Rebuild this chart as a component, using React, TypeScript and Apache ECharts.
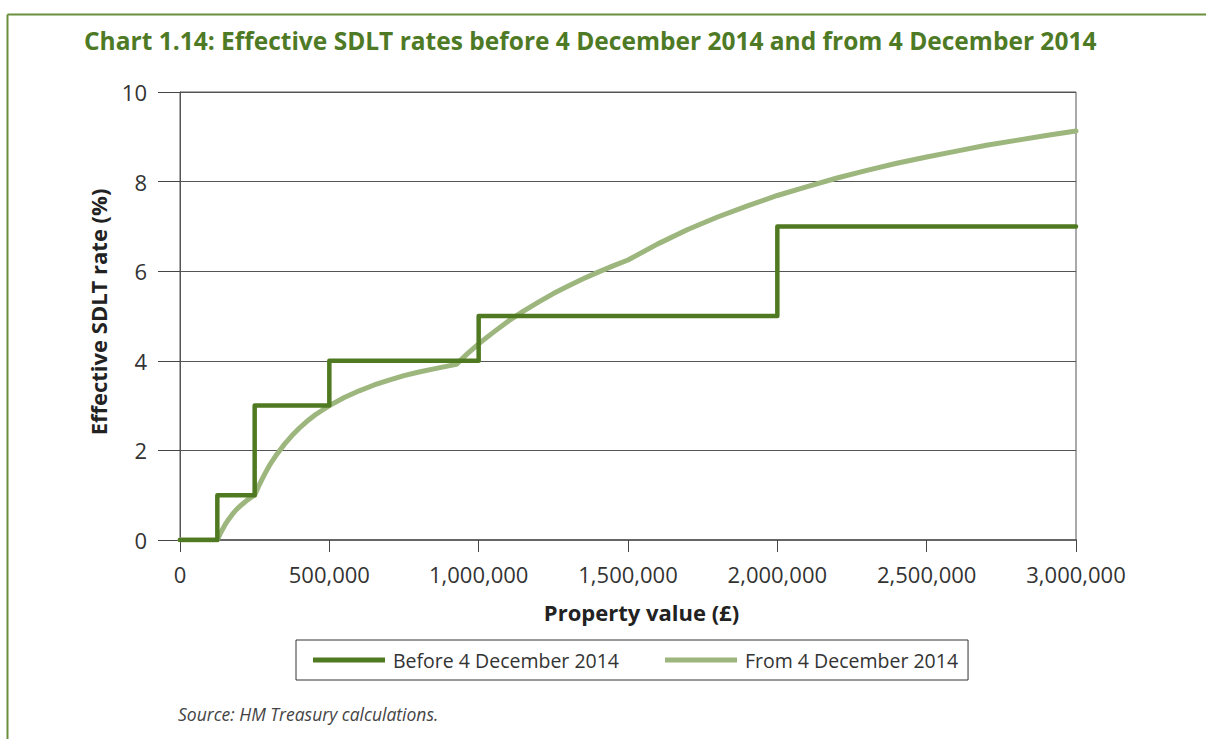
import React, { useEffect, useRef } from "react";
import * as echarts from "echarts";

const TITLE = "Chart 1.14: Effective SDLT rates before 4 December 2014 and from 4 December 2014";
const X_TITLE = "Property value (£)";
const Y_TITLE = "Effective SDLT rate (%)";
const SOURCE = "Source: HM Treasury calculations.";
const SERIES_NAMES = ["Before 4 December 2014", "From 4 December 2014"];

// Before 4 December 2014 (slab system): [property value, effective rate %]
const beforeData: [number, number][] = [
  [0, 0],
  [125000, 0],
  [125000, 1],
  [250000, 1],
  [250000, 3],
  [500000, 3],
  [500000, 4],
  [1000000, 4],
  [1000000, 5],
  [2000000, 5],
  [2000000, 7],
  [3000000, 7],
];

// From 4 December 2014 (slice system): [property value, effective rate %]
const fromData: [number, number][] = [
  [0, 0],
  [125000, 0],
  [137500, 0.18],
  [150000, 0.33],
  [162500, 0.46],
  [175000, 0.57],
  [187500, 0.67],
  [200000, 0.75],
  [212500, 0.82],
  [225000, 0.89],
  [237500, 0.95],
  [250000, 1.0],
  [262500, 1.19],
  [275000, 1.36],
  [287500, 1.52],
  [300000, 1.67],
  [325000, 1.92],
  [350000, 2.14],
  [375000, 2.33],
  [400000, 2.5],
  [425000, 2.65],
  [450000, 2.78],
  [475000, 2.89],
  [500000, 3.0],
  [550000, 3.18],
  [600000, 3.33],
  [650000, 3.46],
  [700000, 3.57],
  [750000, 3.67],
  [800000, 3.75],
  [850000, 3.82],
  [925000, 3.92],
  [962500, 4.16],
  [1000000, 4.38],
  [1050000, 4.64],
  [1100000, 4.89],
  [1150000, 5.11],
  [1200000, 5.31],
  [1250000, 5.5],
  [1300000, 5.67],
  [1350000, 5.83],
  [1400000, 5.98],
  [1450000, 6.12],
  [1500000, 6.25],
  [1600000, 6.61],
  [1700000, 6.93],
  [1800000, 7.21],
  [1900000, 7.46],
  [2000000, 7.69],
  [2100000, 7.89],
  [2200000, 8.08],
  [2300000, 8.25],
  [2400000, 8.41],
  [2500000, 8.55],
  [2600000, 8.68],
  [2700000, 8.81],
  [2800000, 8.92],
  [2900000, 9.03],
  [3000000, 9.13],
];

const X_MIN = 0;
const X_MAX = 3000000;
const X_STEP = 500000;
const Y_MIN = 0;
const Y_MAX = 10;
const Y_STEP = 2;

const DARK = "#507a22";
const LIGHT = "#9cb67d";
const FONT = "'Open Sans', 'Noto Sans', sans-serif";

export default function App() {
  const ref = useRef<HTMLDivElement>(null);

  useEffect(() => {
    document.body.style.margin = "0";
    if (!ref.current) return;
    const chart = echarts.init(ref.current, undefined, { renderer: "svg" });
    const option: any = {
      animation: false,
      backgroundColor: "#ffffff",
      textStyle: { fontFamily: FONT },
      grid: {
        left: 180,
        right: 130,
        top: 92,
        bottom: 199,
        show: true,
        borderColor: "#555555",
        borderWidth: 1,
      },
      xAxis: {
        type: "value",
        min: X_MIN,
        max: X_MAX,
        interval: X_STEP,
        name: X_TITLE,
        nameLocation: "middle",
        nameGap: 61,
        nameTextStyle: {
          fontFamily: FONT,
          fontSize: 22,
          fontWeight: "bold",
          color: "#222222",
          padding: [0, 0, 0, 27],
        },
        axisLine: { show: true, lineStyle: { color: "#666666", width: 2 } },
        axisTick: { show: true, length: 12, lineStyle: { color: "#444444", width: 1 } },
        axisLabel: {
          fontFamily: FONT,
          fontSize: 22,
          color: "#333333",
          margin: 23,
          formatter: (v: number) => v.toLocaleString("en-GB"),
        },
        splitLine: { show: false },
      },
      yAxis: {
        type: "value",
        min: Y_MIN,
        max: Y_MAX,
        interval: Y_STEP,
        name: Y_TITLE,
        nameLocation: "middle",
        nameGap: 71,
        nameRotate: 90,
        nameTextStyle: {
          fontFamily: FONT,
          fontSize: 22,
          fontWeight: "bold",
          color: "#222222",
          padding: [0, 0, 0, 8],
        },
        axisLine: { show: true, lineStyle: { color: "#555555", width: 1 } },
        axisTick: { show: true, length: 22, lineStyle: { color: "#444444", width: 1 } },
        axisLabel: { fontFamily: FONT, fontSize: 22, color: "#333333", margin: 33 },
        splitLine: { show: true, lineStyle: { color: "#555555", width: 1 } },
      },
      legend: {
        show: true,
        left: 296,
        top: 640,
        padding: [10, 10, 10, 17],
        itemGap: 46,
        itemWidth: 72,
        itemHeight: 5,
        borderColor: "#333333",
        borderWidth: 1,
        icon: "rect",
        textStyle: { fontFamily: FONT, fontSize: 19.5, color: "#333333", padding: [0, 0, 0, 3] },
        data: SERIES_NAMES,
      },
      series: [
        {
          name: SERIES_NAMES[1],
          type: "line",
          data: fromData,
          symbol: "none",
          smooth: false,
          lineStyle: { color: LIGHT, width: 5, cap: "round", join: "round" },
          itemStyle: { color: LIGHT },
          z: 2,
        },
        {
          name: SERIES_NAMES[0],
          type: "line",
          data: beforeData,
          symbol: "none",
          smooth: false,
          lineStyle: { color: DARK, width: 4.5, cap: "round", join: "round" },
          itemStyle: { color: DARK },
          z: 3,
        },
      ],
      graphic: [
        {
          type: "line",
          shape: { x1: 7.5, y1: 14.5, x2: 1206, y2: 14.5 },
          style: { stroke: "#6a8f3c", lineWidth: 2 },
        },
        {
          type: "line",
          shape: { x1: 7.5, y1: 14.5, x2: 7.5, y2: 739 },
          style: { stroke: "#6a8f3c", lineWidth: 2 },
        },
        {
          type: "text",
          left: 84,
          top: 28,
          style: {
            text: TITLE,
            font: `bold 24.5px ${FONT}`,
            fill: "#4e7a25",
          },
        },
        {
          type: "text",
          left: 178,
          top: 705,
          style: {
            text: SOURCE,
            font: `italic 17.5px ${FONT}`,
            fill: "#444444",
          },
        },
      ],
    };
    chart.setOption(option);
    return () => chart.dispose();
  }, []);

  return <div ref={ref} style={{ position: "fixed", left: 0, top: 0, width: 1206, height: 739 }} />;
}
